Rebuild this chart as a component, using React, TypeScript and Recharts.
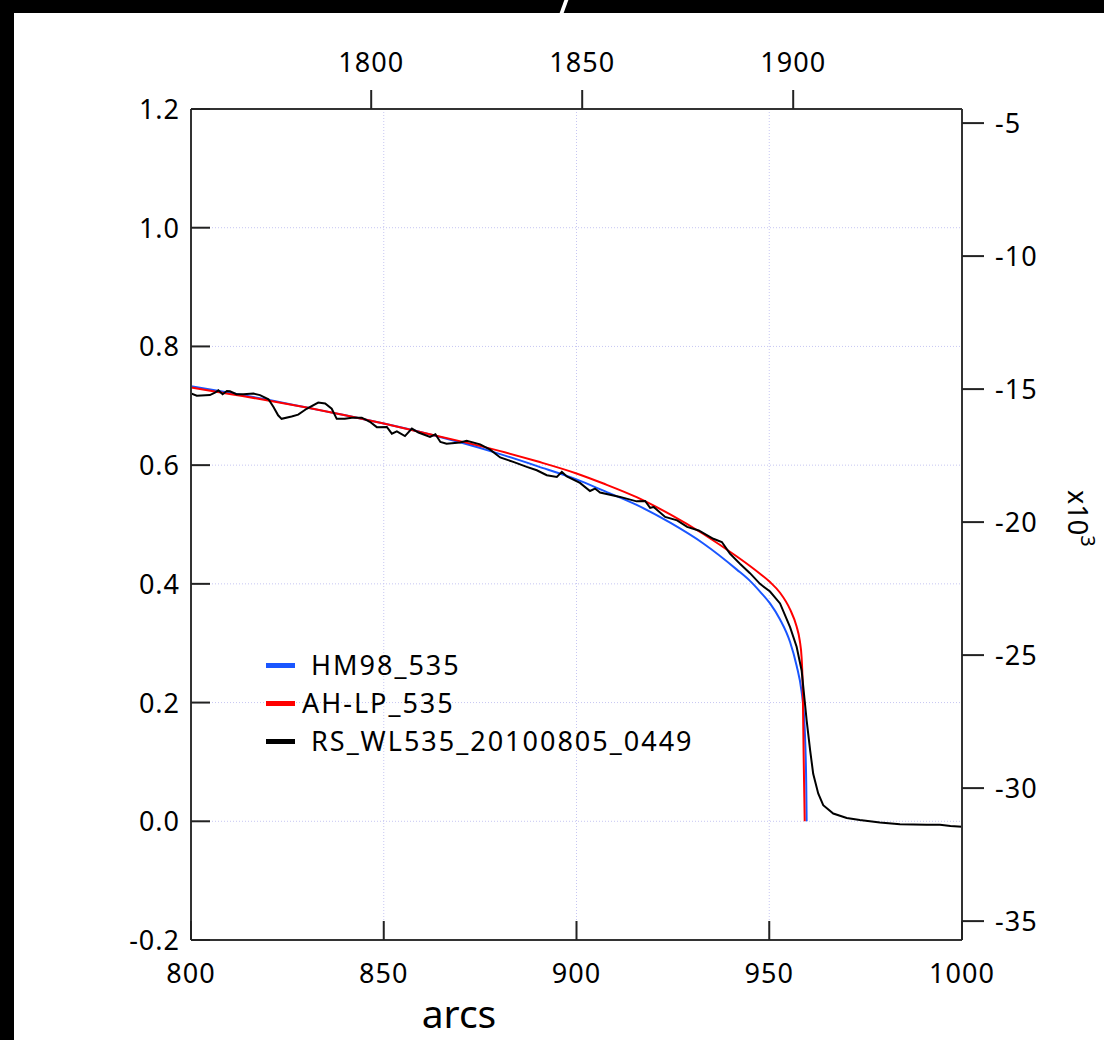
import React from 'react';
import { LineChart, Line, XAxis, YAxis, CartesianGrid, Legend } from 'recharts';

// [arcs, relative intensity]
const hm98Points = [
  [800, 0.733], [810, 0.722], [820, 0.71], [830, 0.697], [840, 0.684], [850, 0.67],
  [860, 0.655], [870, 0.638], [880, 0.619], [890, 0.598], [900, 0.576], [907, 0.557],
  [915.6, 0.533], [924.3, 0.503], [932.9, 0.468], [941.6, 0.424], [945, 0.405],
  [947.6, 0.387], [950.2, 0.367], [952.8, 0.34], [955.4, 0.302], [957.1, 0.262],
  [958.4, 0.218], [959, 0.18], [959.4, 0.12], [959.6, 0.06], [959.7, 0],
];

const ahlpPoints = [
  [800, 0.731], [810, 0.72], [820, 0.709], [830, 0.697], [840, 0.684], [850, 0.67],
  [860, 0.655], [870, 0.64], [880, 0.624], [890, 0.606], [900, 0.586], [907, 0.569],
  [915.6, 0.546], [924.3, 0.517], [932.9, 0.484], [941.6, 0.446], [945, 0.43],
  [947.6, 0.417], [950.2, 0.403], [952.8, 0.385], [955.4, 0.357], [957.1, 0.328],
  [957.9, 0.305], [958.4, 0.275], [958.7, 0.22], [958.9, 0.12], [959.1, 0.04], [959.2, 0],
];

const rsWlPoints = [
  [800, 0.721], [801.5, 0.717], [804.9, 0.718], [806.2, 0.722], [807.1, 0.726],
  [808.2, 0.7195], [809.3, 0.725], [810.1, 0.7245], [811.8, 0.7195], [813.6, 0.7195],
  [816.2, 0.7206], [817.9, 0.718], [820.1, 0.711], [821.4, 0.698], [822.6, 0.684],
  [823.5, 0.678], [826.1, 0.682], [827.8, 0.685], [830, 0.695], [833, 0.7055],
  [834.8, 0.704], [836.5, 0.695], [837.8, 0.678], [839.9, 0.678], [841.7, 0.68],
  [844.3, 0.68], [846.4, 0.673], [848.2, 0.664], [850.8, 0.6644], [852.1, 0.653],
  [853.4, 0.657], [855.5, 0.649], [857.3, 0.6616], [859, 0.655], [862, 0.6475],
  [863.4, 0.652], [864.7, 0.639], [866.3, 0.636], [869.8, 0.638], [871.5, 0.641],
  [875, 0.635], [877.6, 0.626], [880.2, 0.613], [883.6, 0.6055], [887.1, 0.597],
  [889.7, 0.5914], [892.3, 0.583], [894.9, 0.58], [896.2, 0.5886], [897.5, 0.581],
  [900.9, 0.57], [903.5, 0.5565], [904.8, 0.5605], [906.1, 0.5538], [911.3, 0.5465],
  [915.6, 0.539], [917.8, 0.5397], [919.1, 0.528], [920, 0.5296], [923, 0.5127],
  [926.1, 0.507], [928.7, 0.496], [931.7, 0.49], [935.5, 0.476], [937.7, 0.4706],
  [939.8, 0.451], [942.4, 0.434], [945, 0.418], [947.6, 0.4], [950.2, 0.387],
  [952.8, 0.367], [955.4, 0.327], [957.1, 0.294], [958.4, 0.254], [959.1, 0.209],
  [959.7, 0.17], [960.6, 0.12], [961.4, 0.08], [962.7, 0.047], [964, 0.027],
  [966.6, 0.013], [970.1, 0.0056], [973.5, 0.002], [978.7, -0.002], [983.9, -0.005],
  [990.8, -0.006], [994.3, -0.006], [997, -0.008], [1000, -0.009],
];

const bottomTicks = [800, 850, 900, 950, 1000];
const topTicks = [1800, 1850, 1900];
const leftTicks = [-0.2, 0, 0.2, 0.4, 0.6, 0.8, 1.0, 1.2];
const rightTicks = [-35, -30, -25, -20, -15, -10, -5];

const toPoints = (pairs: number[][]) => pairs.map(([arcs, value]) => ({ arcs, value }));

const series = [
  { name: ' HM98_535', color: '#1a56ff', curve: 'monotoneX', data: toPoints(hm98Points) },
  { name: 'AH-LP_535', color: '#ff0000', curve: 'monotoneX', data: toPoints(ahlpPoints) },
  { name: ' RS_WL535_20100805_0449', color: '#000000', curve: 'linear', data: toPoints(rsWlPoints) },
];

// empty series so the top axis gets its own scale
const topAnchor = topTicks.map((year) => ({ year, none: null }));

const FONT = '"Noto Sans", "DejaVu Sans", sans-serif';
const tickText = { fontFamily: FONT, fontSize: 27, fill: '#000', letterSpacing: 1 };
const TICK = '#222';

const LeftTick = ({ x, y, payload }: any) => (
  <g>
    <line x1={x} x2={x + 19} y1={y} y2={y} stroke={TICK} strokeWidth={2} />
    <text x={x - 11} y={y + 10} textAnchor="end" {...tickText}>{Number(payload.value).toFixed(1)}</text>
  </g>
);

const RightTick = ({ x, y, payload }: any) => (
  <g>
    <line x1={x} x2={x + 22} y1={y} y2={y} stroke={TICK} strokeWidth={2} />
    <text x={x + 33} y={y + 10} textAnchor="start" {...tickText}>{payload.value}</text>
  </g>
);

const TopTick = ({ x, y, payload }: any) => (
  <g>
    <line x1={x} x2={x} y1={y} y2={y - 19} stroke={TICK} strokeWidth={2} />
    <text x={x} y={y - 37} textAnchor="middle" {...tickText}>{payload.value}</text>
  </g>
);

const BottomTick = ({ x, y, payload }: any) => (
  <g>
    <line x1={x} x2={x} y1={y} y2={y - 19} stroke={TICK} strokeWidth={2} />
    <text x={x} y={y + 43} textAnchor="middle" {...tickText}>{payload.value}</text>
  </g>
);

const ArcsLabel = () => (
  <text x={459} y={1028} textAnchor="middle" fontFamily={FONT} fontSize={39} fill="#000">arcs</text>
);

const PowerLabel = () => (
  <text x={1068} y={490} transform="rotate(90 1068 490)" fontFamily={FONT} fontSize={27} fill="#000">
    x10<tspan dy={-13} fontSize={20}>3</tspan>
  </text>
);

const LegendBox = () => (
  <div style={{ fontFamily: FONT, fontSize: 27, letterSpacing: 2, color: '#000' }}>
    {series.map((s) => (
      <div key={s.name} style={{ display: 'flex', alignItems: 'center', height: 38 }}>
        <span style={{ display: 'inline-block', width: 29, height: 5, background: s.color, marginRight: 7 }} />
        <span style={{ whiteSpace: 'pre', lineHeight: '38px' }}>{s.name}</span>
      </div>
    ))}
  </div>
);

export default function App() {
  return (
    <div style={{ position: 'absolute', left: 0, top: 0, width: 1104, height: 1040, background: '#fff', overflow: 'hidden' }}>
      <LineChart width={1104} height={1040} margin={{ top: 49, right: 82, bottom: 40, left: 131 }}>
        <CartesianGrid xAxisId="bottom" yAxisId="left" stroke="#c6c6f2" strokeDasharray="1 2" />
        <XAxis xAxisId="bottom" dataKey="arcs" type="number" domain={[800, 1000]} ticks={bottomTicks}
          interval={0} height={60} tickSize={0} tickMargin={0} tick={<BottomTick />}
          axisLine={{ stroke: '#333', strokeWidth: 2 }} allowDataOverflow label={<ArcsLabel />} />
        <XAxis xAxisId="top" orientation="top" dataKey="year" type="number" domain={[1757.3, 1940]} ticks={topTicks}
          interval={0} height={60} tickSize={0} tickMargin={0} tick={<TopTick />}
          axisLine={{ stroke: '#333', strokeWidth: 2 }} allowDataOverflow />
        <YAxis yAxisId="left" type="number" domain={[-0.2, 1.2]} ticks={leftTicks} interval={0}
          width={60} tickSize={0} tickMargin={0} tick={<LeftTick />}
          axisLine={{ stroke: '#333', strokeWidth: 2 }} allowDataOverflow />
        <YAxis yAxisId="right" orientation="right" type="number" domain={[-35.71, -4.47]} ticks={rightTicks}
          interval={0} width={60} tickSize={0} tickMargin={0} tick={<RightTick />}
          axisLine={{ stroke: '#333', strokeWidth: 2 }} allowDataOverflow label={<PowerLabel />} />
        <Line xAxisId="top" yAxisId="right" data={topAnchor} dataKey="none" stroke="none" dot={false}
          activeDot={false} legendType="none" isAnimationActive={false} />
        {series.map((s) => (
          <Line key={s.name} xAxisId="bottom" yAxisId="left" data={s.data} dataKey="value" name={s.name}
            type={s.curve as any} stroke={s.color} strokeWidth={2} dot={false} activeDot={false}
            isAnimationActive={false} />
        ))}
        <Legend layout="horizontal" verticalAlign="middle" align="center" content={<LegendBox />}
          wrapperStyle={{ left: 266, top: 646, width: 460, height: 'auto' }} />
      </LineChart>
      <div style={{ position: 'absolute', left: 0, top: 0, width: 14, height: 1040, background: '#000' }} />
      <div style={{ position: 'absolute', left: 0, top: 0, width: 1104, height: 13, background: '#000' }} />
      <div style={{ position: 'absolute', left: 562, top: 0, width: 4, height: 13, background: '#fff', transform: 'skewX(-20deg)' }} />
    </div>
  );
}
